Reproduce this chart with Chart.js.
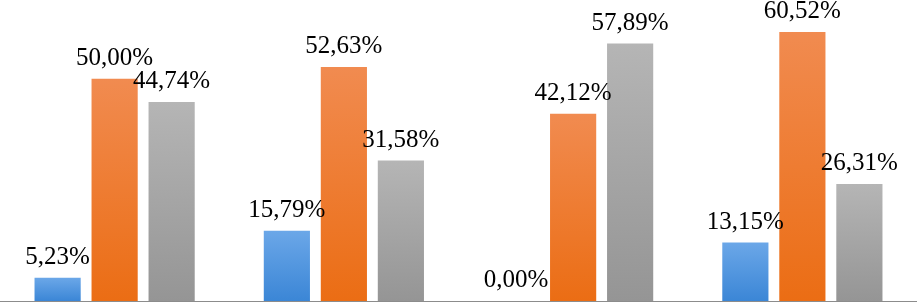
<!DOCTYPE html>
<html>
<head>
<meta charset="utf-8">
<script src="https://cdn.jsdelivr.net/npm/chart.js@4"></script>
<style>
html,body{margin:0;padding:0;background:#fff;}
#wrap{width:917px;height:302px;}
</style>
</head>
<body>
<div id="wrap"><canvas id="c" width="917" height="302"></canvas></div>
<script>
const categories = ["Grupo 1", "Grupo 2", "Grupo 3", "Grupo 4"];
const seriesBlue = [5.23, 15.79, 0.00, 13.15];
const seriesOrange = [50.00, 52.63, 42.12, 60.52];
const seriesGray = [44.74, 31.58, 57.89, 26.31];

const gradients = {
  blue: ["#6ba7e8", "#3b86d6"],
  orange: ["#f18b50", "#eb6d14"],
  gray: ["#b5b5b5", "#959595"]
};

function barGradient(key) {
  return function(ctx) {
    const chart = ctx.chart;
    const area = chart.chartArea;
    if (!area || ctx.type !== 'data') return gradients[key][1];
    const ys = chart.scales.y;
    const top = ys.getPixelForValue(ctx.raw);
    const base = ys.getPixelForValue(0);
    if (!(base - top > 0.5)) return gradients[key][1];
    const g = chart.ctx.createLinearGradient(0, top, 0, base);
    g.addColorStop(0, gradients[key][0]);
    g.addColorStop(1, gradients[key][1]);
    return g;
  };
}

const labelPlugin = {
  id: 'valueLabels',
  afterDatasetsDraw(chart) {
    const ctx = chart.ctx;
    ctx.save();
    ctx.font = '25px "Liberation Serif", "Times New Roman", serif';
    ctx.fillStyle = '#000';
    ctx.textAlign = 'center';
    ctx.textBaseline = 'alphabetic';
    chart.data.datasets.forEach((ds, di) => {
      const meta = chart.getDatasetMeta(di);
      meta.data.forEach((bar, i) => {
        const v = ds.data[i];
        const txt = v.toFixed(2).replace('.', ',') + '%';
        ctx.fillText(txt, bar.x, bar.y - 14);
      });
    });
    ctx.restore();
  }
};

new Chart(document.getElementById('c'), {
  type: 'bar',
  data: {
    labels: categories,
    datasets: [
      { data: seriesBlue, backgroundColor: barGradient('blue') },
      { data: seriesOrange, backgroundColor: barGradient('orange') },
      { data: seriesGray, backgroundColor: barGradient('gray') }
    ]
  },
  options: {
    responsive: false,
    animation: false,
    devicePixelRatio: 1,
    layout: { padding: { top: 0, bottom: 1, left: 0, right: 0 } },
    datasets: { bar: { categoryPercentage: 0.746, barPercentage: 0.81 } },
    plugins: { legend: { display: false }, tooltip: { enabled: false } },
    scales: {
      x: {
        display: true,
        ticks: { display: false },
        grid: { display: false, drawTicks: false },
        border: { display: true, color: '#8c8c8c', width: 1 }
      },
      y: {
        display: false,
        min: 0,
        max: 67.7
      }
    }
  },
  plugins: [labelPlugin]
});
</script>
</body>
</html>
